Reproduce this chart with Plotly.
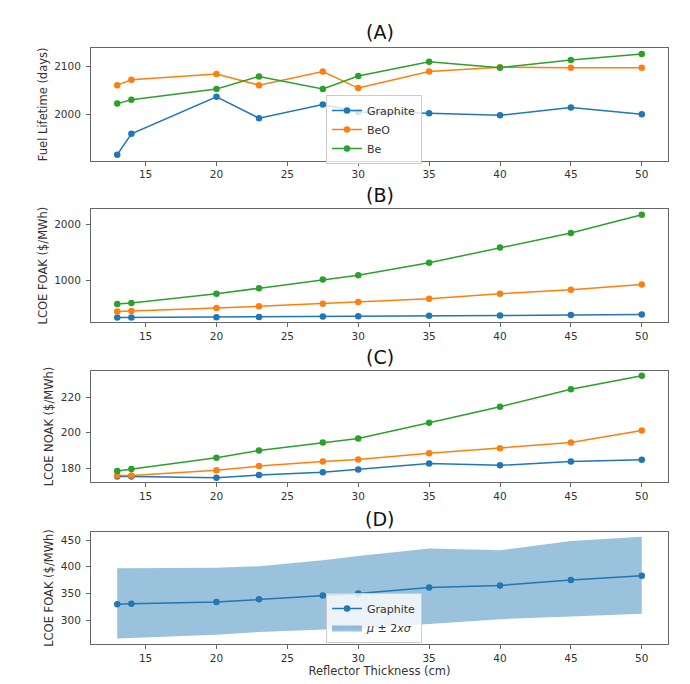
import plotly.graph_objects as go

# reflector thickness (cm)
thickness = [13, 14, 20, 23, 27.5, 30, 35, 40, 45, 50]

# (A) fuel lifetime (days)
life_graphite = [1918, 1961, 2037, 1993, 2021, 2006, 2003, 1999, 2015, 2001]
life_beo = [2061, 2072, 2084, 2061, 2089, 2055, 2089, 2098, 2097, 2097]
life_be = [2023, 2031, 2053, 2079, 2053, 2080, 2109, 2097, 2113, 2125]

# (B) LCOE FOAK ($/MWh)
foak_graphite = [330, 331, 334, 339, 346, 350, 361, 365, 375, 383]
foak_beo = [435, 446, 500, 530, 577, 607, 667, 756, 827, 923]
foak_be = [571, 589, 756, 857, 1012, 1089, 1315, 1589, 1851, 2179]

# (C) LCOE NOAK ($/MWh)
noak_graphite = [175.5, 175.5, 174.8, 176.3, 177.8, 179.4, 182.8, 181.7, 183.9, 184.9]
noak_beo = [176, 176, 178.9, 181.3, 183.9, 185, 188.5, 191.3, 194.5, 201.2]
noak_be = [178.5, 179.6, 186, 190.1, 194.5, 196.8, 205.6, 214.6, 224.4, 232]

# (D) graphite LCOE FOAK band
band_upper = [397, 397, 398, 401, 412, 420, 434, 431, 448, 456]
band_lower = [266, 267, 273, 278, 283, 285, 293, 302, 307, 312]

C0, C1, C2 = "#1f77b4", "#ff7f0e", "#2ca02c"
W, H = 690, 684
FONT = "DejaVu Sans"

x_dom = [83 / W, 660 / W]
panels = [  # (top px, bottom px, title y px, label, y range, ticks, ytitle)
    (40, 152.7, 24, "(A)", [1905.5, 2137.5], [2000, 2100], "Fuel Lifetime (days)"),
    (201.3, 314, 187, "(B)", [248, 2277], [1000, 2000], "LCOE FOAK ($/MWh)"),
    (362.7, 474.3, 349, "(C)", [172.2, 234.8], [180, 200, 220], "LCOE NOAK ($/MWh)"),
    (524, 636, 511, "(D)", [255.5, 465], [300, 350, 400, 450], "LCOE FOAK ($/MWh)"),
]

fig = go.Figure()


def line(i, y, color, name, legend=None):
    fig.add_trace(go.Scatter(
        x=thickness, y=y, mode="lines+markers", name=name,
        line=dict(color=color, width=1.5),
        marker=dict(color=color, size=6.5),
        xaxis="x" if i == 1 else f"x{i}", yaxis="y" if i == 1 else f"y{i}",
        showlegend=legend is not None, legend=legend or "legend",
    ))


line(1, life_graphite, C0, "Graphite", "legend")
line(1, life_beo, C1, "BeO", "legend")
line(1, life_be, C2, "Be", "legend")

line(2, foak_graphite, C0, "Graphite")
line(2, foak_beo, C1, "BeO")
line(2, foak_be, C2, "Be")

line(3, noak_graphite, C0, "Graphite")
line(3, noak_beo, C1, "BeO")
line(3, noak_be, C2, "Be")

fig.add_trace(go.Scatter(
    x=thickness, y=band_lower, mode="lines", line=dict(width=0),
    showlegend=False, xaxis="x4", yaxis="y4", hoverinfo="skip",
))
fig.add_trace(go.Scatter(
    x=thickness, y=band_upper, mode="lines", line=dict(width=0),
    fill="tonexty", fillcolor="rgba(31,119,180,0.45)",
    name="<i>μ</i> ± 2<i>xσ</i>", xaxis="x4", yaxis="y4",
    legend="legend2", legendrank=2,
))
fig.add_trace(go.Scatter(
    x=thickness, y=foak_graphite, mode="lines+markers", name="Graphite",
    line=dict(color=C0, width=1.5), marker=dict(color=C0, size=6.5),
    xaxis="x4", yaxis="y4", legend="legend2", legendrank=1,
))

layout = dict(
    width=W, height=H,
    margin=dict(l=0, r=0, t=0, b=0),
    paper_bgcolor="white", plot_bgcolor="white",
    font=dict(family=FONT, size=10, color="#333"),
    annotations=[],
)

axis_common = dict(
    showline=True, mirror=True, linecolor="#666", linewidth=1,
    ticks="outside", ticklen=4, tickcolor="#666", tickwidth=1,
    showgrid=False, zeroline=False,
    tickfont=dict(family=FONT, size=10.5, color="#333"),
)

for k, (top, bot, ty, label, yr, yt, ytitle) in enumerate(panels, start=1):
    sx = "" if k == 1 else str(k)
    layout[f"xaxis{sx}"] = dict(
        axis_common, domain=x_dom, range=[11.15, 51.85],
        tickvals=[15, 20, 25, 30, 35, 40, 45, 50],
        anchor=f"y{sx}",
    )
    layout[f"yaxis{sx}"] = dict(
        axis_common, domain=[1 - bot / H, 1 - top / H], range=yr,
        tickvals=yt, anchor=f"x{sx}",
        title=dict(text=ytitle, standoff=4, font=dict(size=11.5, color="#333")),
        ticklabelstandoff=3,
    )
    layout["annotations"].append(dict(
        text=label, x=(x_dom[0] + x_dom[1]) / 2, y=1 - ty / H,
        xref="paper", yref="paper", showarrow=False,
        xanchor="center", yanchor="middle",
        font=dict(family=FONT, size=19, color="#111"),
    ))

layout["xaxis4"]["title"] = dict(text="Reflector Thickness (cm)", standoff=3,
                                 font=dict(size=11.5, color="#333"))

legend_style = dict(
    bgcolor="rgba(255,255,255,0.8)", bordercolor="#cccccc", borderwidth=1,
    font=dict(family=FONT, size=11, color="#333"),
    xref="paper", yref="paper", xanchor="left", yanchor="top",
    tracegroupgap=0, itemwidth=30, traceorder="normal",
)
layout["legend"] = dict(legend_style, x=318 / W, y=1 - 87 / H)
layout["legend2"] = dict(legend_style, x=318 / W, y=1 - 585 / H)
layout["showlegend"] = True

fig.update_layout(**layout)

fig.write_html("out.html")
